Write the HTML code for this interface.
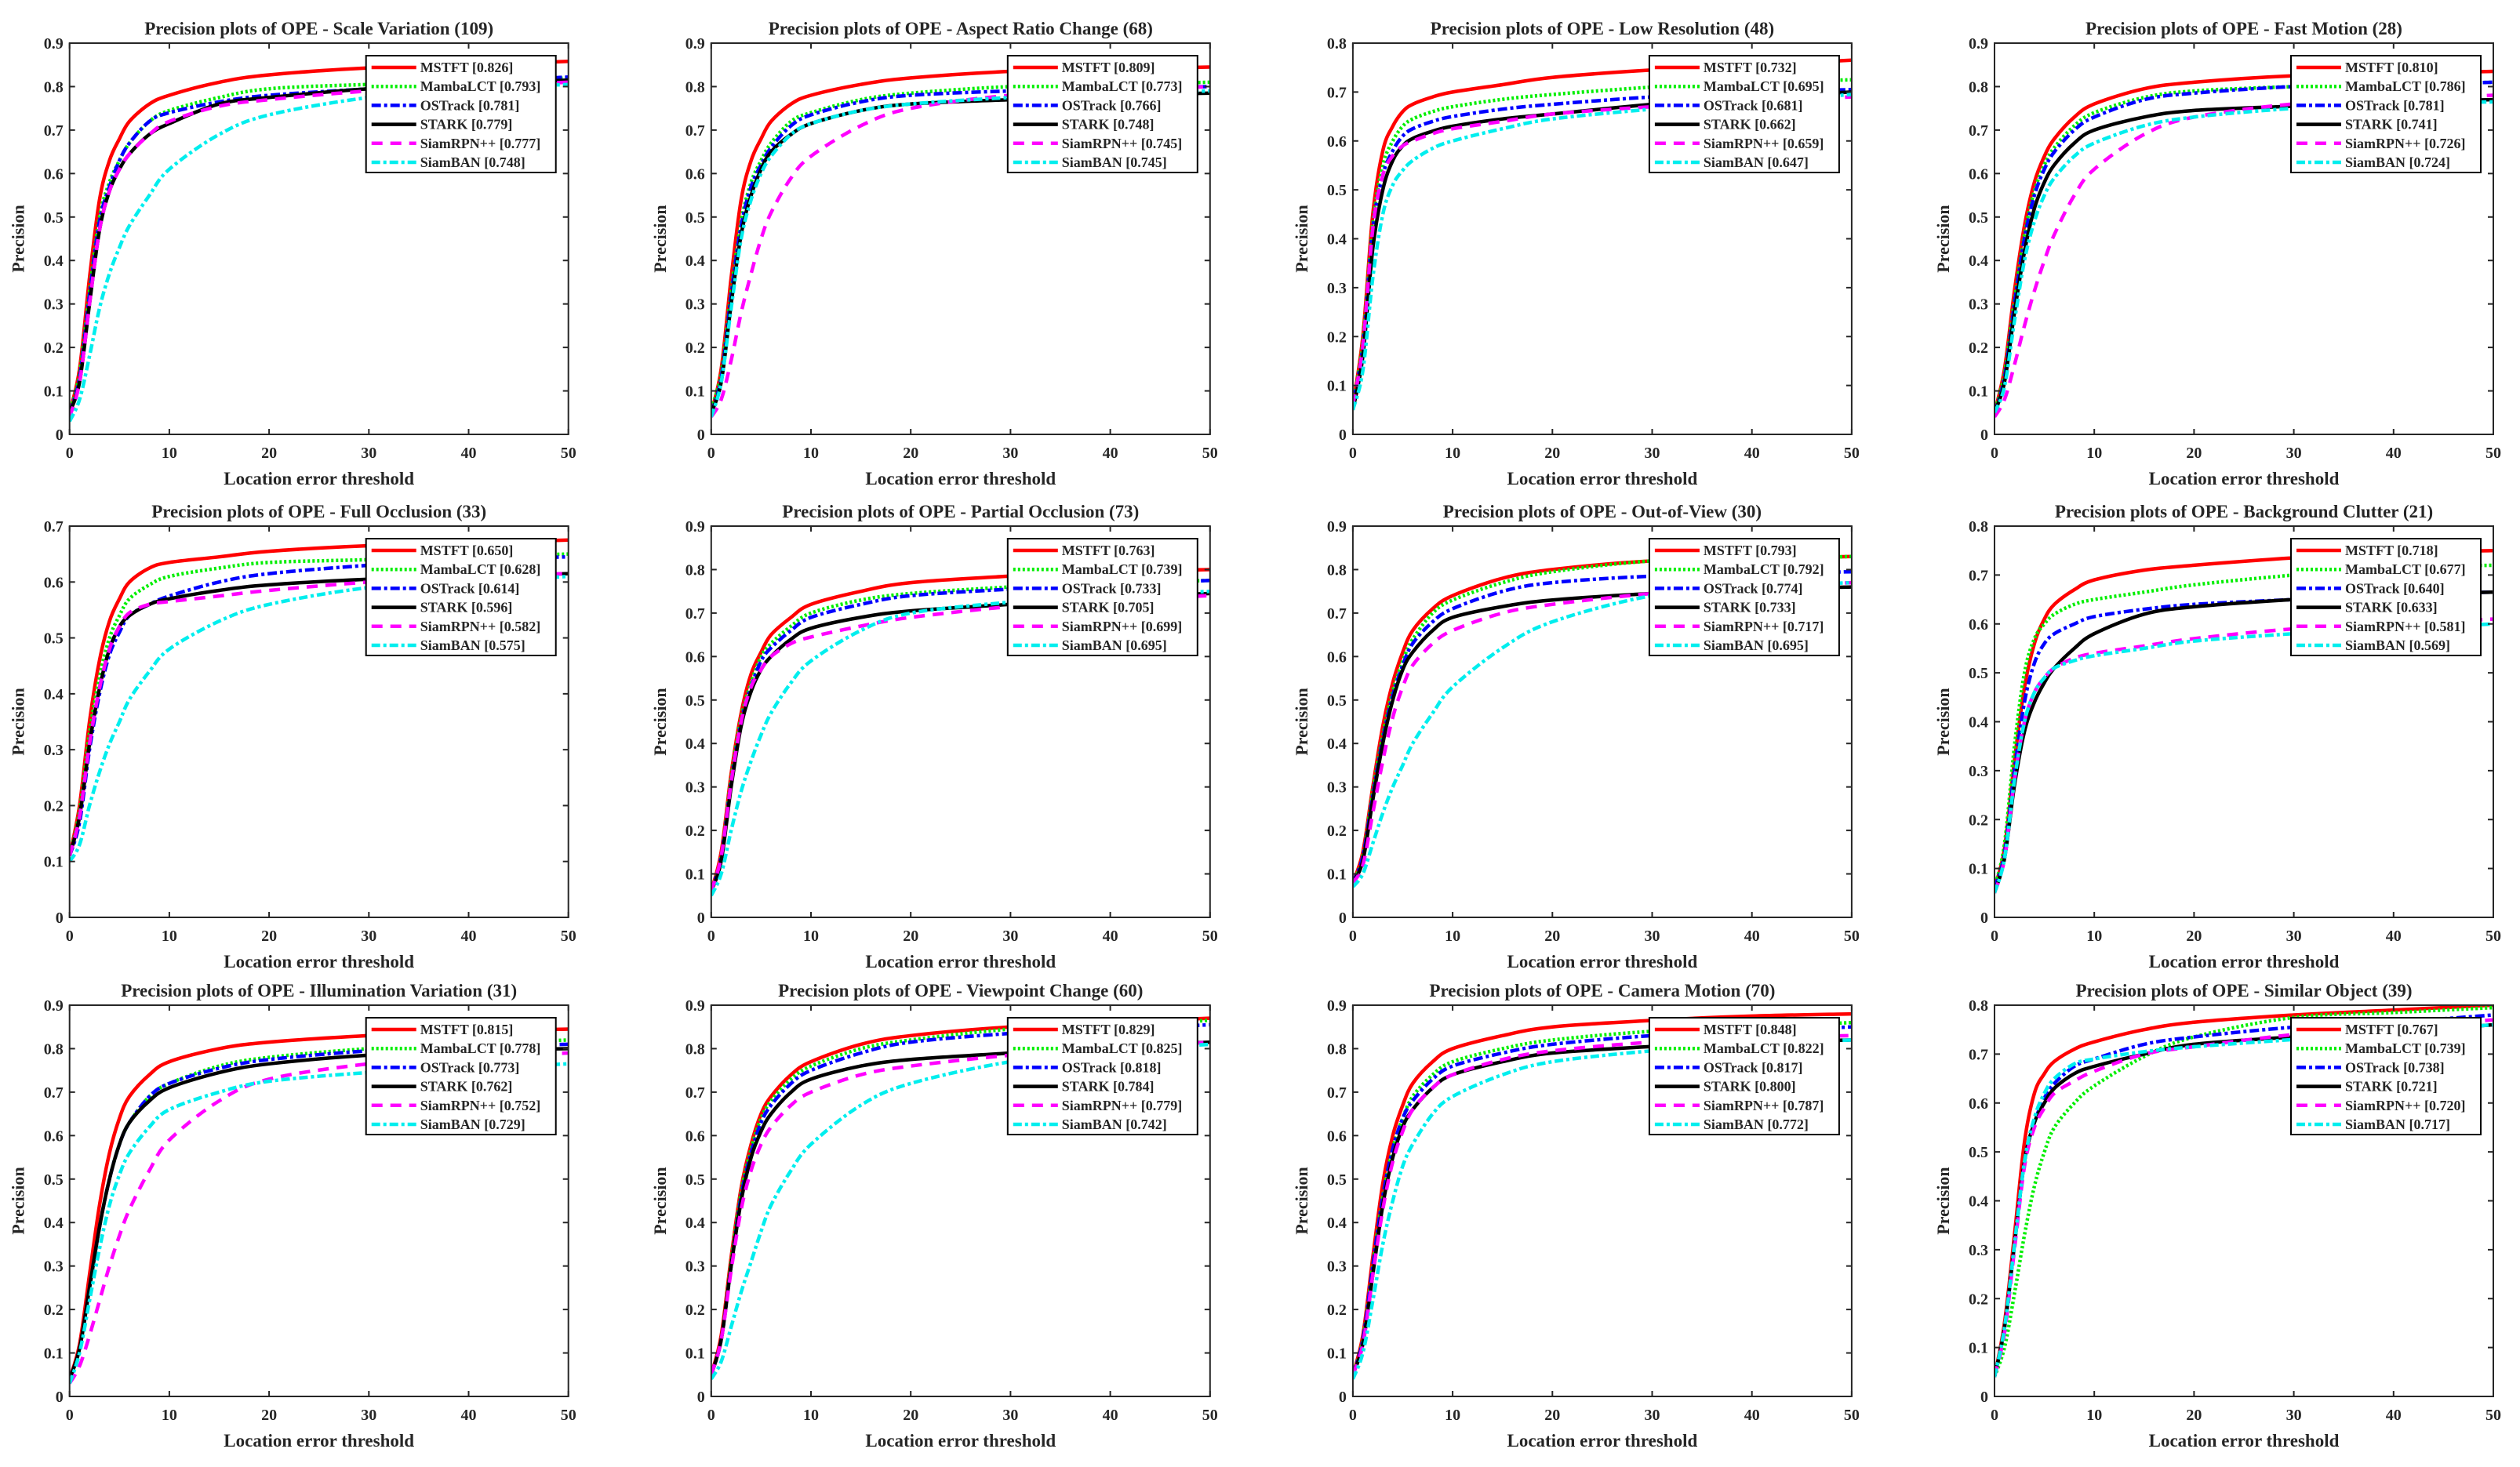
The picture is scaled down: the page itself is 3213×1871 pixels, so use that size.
<!DOCTYPE html>
<html><head><meta charset="utf-8">
<style>
html,body{margin:0;padding:0;background:#fff;}
svg{display:block;}
text{font-family:"Liberation Serif",serif;font-weight:bold;fill:#262626;}
</style></head>
<body>
<svg id="fig" xmlns="http://www.w3.org/2000/svg" width="3213" height="1871" viewBox="0 0 3213 1871"></svg>
<script>
// ---- data ----
const thresholds = [0,1,2,3,4,5,6,8,10,15,20,30,40,50];
const trackers = ["MSTFT","MambaLCT","OSTrack","STARK","SiamRPN++","SiamBAN"];
const titles = [
 "Precision plots of OPE - Scale Variation (109)",
 "Precision plots of OPE - Aspect Ratio Change (68)",
 "Precision plots of OPE - Low Resolution (48)",
 "Precision plots of OPE - Fast Motion (28)",
 "Precision plots of OPE - Full Occlusion (33)",
 "Precision plots of OPE - Partial Occlusion (73)",
 "Precision plots of OPE - Out-of-View (30)",
 "Precision plots of OPE - Background Clutter (21)",
 "Precision plots of OPE - Illumination Variation (31)",
 "Precision plots of OPE - Viewpoint Change (60)",
 "Precision plots of OPE - Camera Motion (70)",
 "Precision plots of OPE - Similar Object (39)"
];
const yMaxes = [0.9,0.9,0.8,0.9,0.7,0.9,0.9,0.8,0.9,0.9,0.9,0.8];
const legendScores = [
 ["0.826","0.793","0.781","0.779","0.777","0.748"],
 ["0.809","0.773","0.766","0.748","0.745","0.745"],
 ["0.732","0.695","0.681","0.662","0.659","0.647"],
 ["0.810","0.786","0.781","0.741","0.726","0.724"],
 ["0.650","0.628","0.614","0.596","0.582","0.575"],
 ["0.763","0.739","0.733","0.705","0.699","0.695"],
 ["0.793","0.792","0.774","0.733","0.717","0.695"],
 ["0.718","0.677","0.640","0.633","0.581","0.569"],
 ["0.815","0.778","0.773","0.762","0.752","0.729"],
 ["0.829","0.825","0.818","0.784","0.779","0.742"],
 ["0.848","0.822","0.817","0.800","0.787","0.772"],
 ["0.767","0.739","0.738","0.721","0.720","0.717"]
];
// precision curves per panel: [MSTFT, MambaLCT, OSTrack, STARK, SiamRPN++, SiamBAN]
const p1 = [
 [0.05,0.15,0.36,0.54,0.63,0.68,0.72,0.76,0.78,0.81,0.827,0.843,0.85,0.858],
 [0.05,0.14,0.33,0.50,0.58,0.63,0.67,0.72,0.745,0.775,0.795,0.805,0.81,0.82],
 [0.05,0.13,0.32,0.49,0.57,0.63,0.67,0.72,0.74,0.765,0.78,0.795,0.81,0.822],
 [0.05,0.12,0.30,0.47,0.56,0.61,0.645,0.69,0.715,0.76,0.775,0.795,0.805,0.815],
 [0.04,0.12,0.30,0.47,0.56,0.61,0.645,0.69,0.72,0.755,0.77,0.79,0.80,0.81],
 [0.03,0.08,0.18,0.29,0.37,0.43,0.48,0.55,0.61,0.69,0.735,0.775,0.795,0.805]];
const p2 = [
 [0.05,0.15,0.36,0.54,0.63,0.68,0.72,0.76,0.78,0.805,0.82,0.835,0.84,0.845],
 [0.06,0.14,0.33,0.49,0.58,0.63,0.67,0.72,0.74,0.77,0.785,0.80,0.805,0.81],
 [0.05,0.13,0.32,0.48,0.57,0.62,0.66,0.71,0.735,0.765,0.78,0.79,0.795,0.80],
 [0.05,0.12,0.30,0.46,0.55,0.61,0.65,0.69,0.715,0.745,0.76,0.77,0.78,0.785],
 [0.04,0.08,0.17,0.28,0.37,0.45,0.51,0.59,0.64,0.71,0.75,0.78,0.79,0.80],
 [0.04,0.12,0.29,0.45,0.54,0.60,0.64,0.69,0.715,0.745,0.76,0.775,0.785,0.79]];
const p3 = [
 [0.06,0.20,0.45,0.58,0.63,0.66,0.675,0.69,0.70,0.715,0.73,0.745,0.755,0.765],
 [0.06,0.19,0.43,0.55,0.60,0.63,0.645,0.66,0.67,0.685,0.695,0.71,0.72,0.725],
 [0.06,0.18,0.42,0.53,0.58,0.61,0.625,0.64,0.65,0.665,0.675,0.69,0.70,0.705],
 [0.05,0.16,0.38,0.50,0.56,0.59,0.605,0.62,0.63,0.645,0.655,0.675,0.69,0.70],
 [0.06,0.18,0.42,0.53,0.57,0.59,0.60,0.615,0.625,0.64,0.655,0.67,0.68,0.69],
 [0.05,0.13,0.32,0.45,0.51,0.54,0.56,0.585,0.60,0.625,0.645,0.665,0.68,0.695]];
const p4 = [
 [0.05,0.15,0.33,0.48,0.58,0.64,0.68,0.73,0.76,0.795,0.81,0.825,0.83,0.835],
 [0.05,0.14,0.31,0.46,0.56,0.62,0.66,0.71,0.74,0.775,0.79,0.80,0.805,0.81],
 [0.05,0.13,0.30,0.45,0.55,0.61,0.65,0.70,0.73,0.77,0.785,0.80,0.805,0.81],
 [0.05,0.12,0.28,0.42,0.52,0.58,0.62,0.67,0.70,0.73,0.745,0.755,0.765,0.77],
 [0.04,0.08,0.16,0.25,0.33,0.40,0.46,0.55,0.61,0.69,0.73,0.76,0.77,0.78],
 [0.05,0.11,0.26,0.40,0.49,0.55,0.59,0.64,0.67,0.71,0.73,0.75,0.76,0.765]];
const p5 = [
 [0.11,0.20,0.35,0.46,0.53,0.57,0.60,0.625,0.635,0.645,0.655,0.665,0.67,0.675],
 [0.11,0.19,0.33,0.43,0.50,0.54,0.57,0.595,0.61,0.625,0.635,0.64,0.645,0.65],
 [0.11,0.17,0.30,0.40,0.47,0.51,0.54,0.56,0.575,0.60,0.615,0.63,0.64,0.645],
 [0.11,0.18,0.31,0.41,0.48,0.52,0.54,0.56,0.57,0.585,0.595,0.605,0.61,0.615],
 [0.11,0.18,0.31,0.41,0.48,0.52,0.545,0.56,0.565,0.575,0.585,0.60,0.61,0.615],
 [0.10,0.13,0.20,0.26,0.31,0.35,0.39,0.44,0.48,0.53,0.56,0.59,0.60,0.61]];
const p6 = [
 [0.06,0.15,0.33,0.47,0.56,0.61,0.65,0.69,0.72,0.75,0.77,0.785,0.795,0.80],
 [0.06,0.14,0.32,0.46,0.54,0.60,0.63,0.67,0.70,0.73,0.745,0.76,0.77,0.775],
 [0.06,0.14,0.31,0.45,0.53,0.59,0.62,0.66,0.69,0.72,0.74,0.755,0.765,0.775],
 [0.06,0.13,0.30,0.44,0.52,0.57,0.60,0.64,0.665,0.69,0.705,0.72,0.735,0.745],
 [0.06,0.14,0.31,0.45,0.53,0.57,0.60,0.63,0.645,0.67,0.69,0.715,0.73,0.74],
 [0.05,0.10,0.20,0.29,0.36,0.42,0.47,0.54,0.59,0.66,0.70,0.725,0.74,0.75]];
const p7 = [
 [0.08,0.15,0.30,0.44,0.54,0.61,0.66,0.71,0.74,0.78,0.80,0.82,0.825,0.83],
 [0.08,0.14,0.29,0.42,0.52,0.59,0.64,0.70,0.73,0.77,0.795,0.82,0.825,0.83],
 [0.08,0.14,0.28,0.41,0.51,0.58,0.63,0.68,0.71,0.75,0.77,0.785,0.79,0.795],
 [0.08,0.13,0.27,0.40,0.50,0.57,0.61,0.66,0.69,0.715,0.73,0.745,0.755,0.76],
 [0.08,0.12,0.24,0.36,0.46,0.53,0.58,0.63,0.66,0.70,0.72,0.745,0.76,0.77],
 [0.07,0.10,0.17,0.24,0.30,0.35,0.40,0.47,0.53,0.62,0.68,0.74,0.76,0.77]];
const p8 = [
 [0.06,0.14,0.32,0.47,0.56,0.61,0.64,0.67,0.69,0.71,0.72,0.735,0.745,0.75],
 [0.06,0.15,0.35,0.50,0.57,0.60,0.62,0.64,0.65,0.665,0.68,0.70,0.715,0.72],
 [0.06,0.13,0.30,0.44,0.52,0.56,0.58,0.60,0.615,0.63,0.64,0.65,0.66,0.665],
 [0.05,0.12,0.27,0.38,0.44,0.48,0.51,0.55,0.58,0.62,0.635,0.65,0.66,0.665],
 [0.05,0.12,0.28,0.40,0.46,0.49,0.51,0.53,0.54,0.555,0.57,0.59,0.60,0.61],
 [0.05,0.12,0.28,0.40,0.46,0.49,0.51,0.525,0.535,0.55,0.565,0.58,0.59,0.60]];
const p9 = [
 [0.04,0.12,0.28,0.44,0.56,0.64,0.69,0.74,0.77,0.80,0.815,0.83,0.84,0.845],
 [0.04,0.11,0.25,0.39,0.50,0.58,0.63,0.69,0.72,0.76,0.78,0.80,0.81,0.82],
 [0.04,0.11,0.25,0.39,0.50,0.58,0.63,0.69,0.72,0.755,0.775,0.795,0.805,0.81],
 [0.04,0.11,0.25,0.39,0.50,0.58,0.63,0.68,0.71,0.745,0.765,0.785,0.795,0.80],
 [0.03,0.07,0.14,0.22,0.30,0.37,0.43,0.52,0.59,0.68,0.73,0.765,0.78,0.79],
 [0.03,0.10,0.22,0.34,0.44,0.51,0.56,0.62,0.66,0.70,0.725,0.745,0.755,0.765]];
const p10 = [
 [0.05,0.14,0.32,0.48,0.58,0.65,0.69,0.74,0.77,0.81,0.83,0.85,0.86,0.87],
 [0.05,0.13,0.31,0.47,0.57,0.64,0.68,0.73,0.76,0.80,0.82,0.845,0.855,0.865],
 [0.05,0.13,0.30,0.46,0.56,0.63,0.67,0.72,0.75,0.79,0.815,0.835,0.845,0.855],
 [0.05,0.13,0.30,0.45,0.55,0.61,0.65,0.70,0.73,0.76,0.775,0.79,0.805,0.815],
 [0.05,0.13,0.29,0.43,0.52,0.58,0.62,0.67,0.70,0.74,0.76,0.785,0.80,0.815],
 [0.04,0.08,0.16,0.24,0.31,0.38,0.44,0.52,0.58,0.67,0.72,0.77,0.795,0.81]];
const p11 = [
 [0.05,0.14,0.32,0.49,0.60,0.67,0.72,0.77,0.80,0.83,0.85,0.865,0.875,0.88],
 [0.05,0.13,0.30,0.46,0.57,0.64,0.69,0.74,0.77,0.80,0.82,0.84,0.85,0.86],
 [0.05,0.13,0.30,0.46,0.57,0.64,0.68,0.73,0.76,0.79,0.81,0.83,0.84,0.85],
 [0.05,0.12,0.28,0.44,0.55,0.62,0.66,0.71,0.74,0.77,0.79,0.805,0.815,0.82],
 [0.05,0.12,0.28,0.43,0.54,0.61,0.66,0.71,0.74,0.775,0.795,0.815,0.825,0.83],
 [0.04,0.10,0.22,0.35,0.45,0.53,0.58,0.65,0.69,0.74,0.77,0.795,0.81,0.82]];
const p12 = [
 [0.04,0.15,0.33,0.52,0.62,0.66,0.685,0.71,0.725,0.75,0.765,0.78,0.79,0.80],
 [0.04,0.10,0.21,0.33,0.43,0.50,0.55,0.60,0.635,0.695,0.735,0.775,0.785,0.795],
 [0.04,0.14,0.31,0.48,0.56,0.61,0.64,0.675,0.69,0.72,0.735,0.755,0.765,0.78],
 [0.04,0.14,0.31,0.48,0.56,0.60,0.63,0.66,0.675,0.70,0.72,0.735,0.745,0.76],
 [0.04,0.13,0.30,0.47,0.55,0.59,0.62,0.645,0.665,0.70,0.715,0.74,0.755,0.77],
 [0.04,0.14,0.31,0.48,0.57,0.62,0.65,0.68,0.69,0.705,0.715,0.73,0.745,0.76]];
const panelCurves = [p1,p2,p3,p4,p5,p6,p7,p8,p9,p10,p11,p12];
const xTickValues = [0,10,20,30,40,50];

// ---- styles ----
const seriesColors = ["#ff0000","#00ee00","#0000ff","#000000","#ff00ff","#00eeee"];
const seriesDash = ["", "3 3", "12 4 4 4", "", "14 10", "11 4 4 4"];
const colLeft = [88.7, 906.8, 1724.9, 2543];
const rowTop = [55, 671, 1282];
const PW = 636, PH = 499;
const NS = "http://www.w3.org/2000/svg";
const svg = document.getElementById('fig');

function mk(tag, attrs, parent){
  const e = document.createElementNS(NS, tag);
  for (const k in attrs) e.setAttribute(k, attrs[k]);
  parent.appendChild(e);
  return e;
}
function smoothPath(pts){
  let d = "M" + pts[0][0].toFixed(1) + "," + pts[0][1].toFixed(1);
  for (let i=0;i<pts.length-1;i++){
    const p0 = pts[i-1]||pts[i], p1 = pts[i], p2 = pts[i+1], p3 = pts[i+2]||p2;
    const c1x = p1[0]+(p2[0]-p0[0])/6, c1y = p1[1]+(p2[1]-p0[1])/6;
    const c2x = p2[0]-(p3[0]-p1[0])/6, c2y = p2[1]-(p3[1]-p1[1])/6;
    d += " C"+c1x.toFixed(1)+","+c1y.toFixed(1)+" "+c2x.toFixed(1)+","+c2y.toFixed(1)+" "+p2[0].toFixed(1)+","+p2[1].toFixed(1);
  }
  return d;
}

for (let p=0;p<12;p++){
  const L = colLeft[p%4], T = rowTop[Math.floor(p/4)];
  const R = L+PW, B = T+PH, ymax = yMaxes[p];
  const xs = v => L + v/50*PW;
  const ys = v => B - v/ymax*PH;
  const g = mk('g', {}, svg);
  
  

  // title
  const t = mk('text', {x:(L+R)/2, y:T-11, 'text-anchor':'middle', 'font-size':23}, g);
  
  
  t.textContent = titles[p];

  // clip
  const cid = 'clip'+p;
  const cp = mk('clipPath', {id:cid}, g);
  mk('rect', {x:L, y:T, width:PW, height:PH}, cp);

  // curves
  const cg = mk('g', {'clip-path':'url(#'+cid+')'}, g);
  const curves = panelCurves[p];
  for (let s=0;s<6;s++){
    const pts = thresholds.map((tv,i)=>[xs(tv), ys(curves[s][i])]);
    const path = mk('path', {d:smoothPath(pts), fill:'none', stroke:seriesColors[s], 'stroke-width':4.5, 'stroke-linejoin':'round'}, cg);
    if (seriesDash[s]) path.setAttribute('stroke-dasharray', seriesDash[s]);
    
    
  }

  // axes box
  const box = mk('rect', {x:L, y:T, width:PW, height:PH, fill:'none', stroke:'#262626', 'stroke-width':2}, g);
  
  

  // x ticks
  for (const v of xTickValues){
    const x = xs(v);
    mk('line', {x1:x, y1:B, x2:x, y2:B-7, stroke:'#262626', 'stroke-width':2}, g);
    mk('line', {x1:x, y1:T, x2:x, y2:T+7, stroke:'#262626', 'stroke-width':2}, g);
    const tl = mk('text', {x:x, y:B+30, 'text-anchor':'middle', 'font-size':20}, g);
    
    
    tl.textContent = String(v);
  }
  // y ticks
  const nY = Math.round(ymax*10);
  for (let k=0;k<=nY;k++){
    const v = k/10, y = ys(v);
    mk('line', {x1:L, y1:y, x2:L+7, y2:y, stroke:'#262626', 'stroke-width':2}, g);
    mk('line', {x1:R, y1:y, x2:R-7, y2:y, stroke:'#262626', 'stroke-width':2}, g);
    const tl = mk('text', {x:L-8, y:y+7, 'text-anchor':'end', 'font-size':20}, g);
    
    
    tl.textContent = k===0 ? "0" : v.toFixed(1);
  }
  // axis titles
  const xl = mk('text', {x:(L+R)/2, y:B+64, 'text-anchor':'middle', 'font-size':23}, g);
  
  
  xl.textContent = "Location error threshold";
  const yx = L-58, yy = (T+B)/2;
  const yl = mk('text', {x:yx, y:yy, 'text-anchor':'middle', 'font-size':22, transform:'rotate(-90 '+yx+' '+yy+')'}, g);
  
  
  yl.textContent = "Precision";

  // legend
  const lw = 242, lh = 149, lx = R-16-lw, ly = T+16;
  const lg = mk('g', {}, g);
  
  
  mk('rect', {x:lx, y:ly, width:lw, height:lh, fill:'#fff', stroke:'#000', 'stroke-width':2}, lg);
  for (let s=0;s<6;s++){
    const cy = ly + 15 + s*24.2;
    const ent = mk('g', {}, lg);
    
    
    const ln = mk('line', {x1:lx+7, y1:cy, x2:lx+64, y2:cy, stroke:seriesColors[s], 'stroke-width':4.5}, ent);
    if (seriesDash[s]) ln.setAttribute('stroke-dasharray', seriesDash[s]);
    const tx = mk('text', {x:lx+69, y:cy+6, 'font-size':18}, ent);
    tx.textContent = trackers[s] + " [" + legendScores[p][s] + "]";
  }
}
</script>
</body></html>
